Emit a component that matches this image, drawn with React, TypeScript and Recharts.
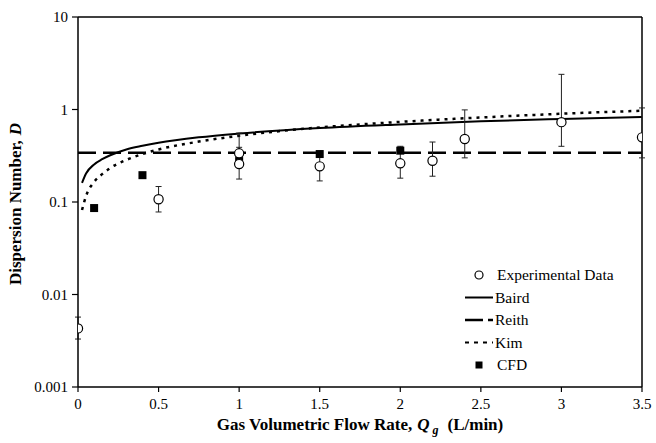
import {
  ComposedChart,
  ErrorBar,
  Label,
  Legend,
  Line,
  ReferenceLine,
  Scatter,
  XAxis,
  YAxis,
} from 'recharts';

const FONT = '"Liberation Serif", "Times New Roman", Times, serif';

const X_TICKS = [0, 0.5, 1, 1.5, 2, 2.5, 3, 3.5];
const Y_TICKS = [0.001, 0.01, 0.1, 1, 10];

// measured dispersion numbers, with the lower / upper ends of each error bar
const EXP_Q = [0, 0.5, 1, 1, 1.5, 2, 2.2, 2.4, 3, 3.5];
const EXP_D = [0.0043, 0.107, 0.336, 0.257, 0.243, 0.262, 0.279, 0.48, 0.73, 0.5];
const EXP_LOW = [0.0033, 0.078, 0.27, 0.177, 0.169, 0.181, 0.19, 0.3, 0.4, 0.3];
const EXP_HIGH = [0.0057, 0.147, 0.556, 0.39, 0.33, 0.4, 0.445, 0.99, 2.4, 1.04];

const CFD_Q = [0.1, 0.4, 1, 1.5, 2];
const CFD_D = [0.086, 0.195, 0.277, 0.33, 0.359];

// correlation curves
const MODEL_Q = [0.025, 0.05, 0.1, 0.15, 0.2, 0.3, 0.4, 0.5, 0.75, 1, 1.5, 2, 2.5, 3, 3.5];
const BAIRD_D = [0.161, 0.203, 0.255, 0.29, 0.32, 0.37, 0.405, 0.437, 0.5, 0.55, 0.63, 0.69, 0.745, 0.79, 0.83];
const KIM_D = [0.082, 0.116, 0.165, 0.2, 0.233, 0.285, 0.33, 0.37, 0.45, 0.52, 0.64, 0.735, 0.82, 0.9, 0.97];
const REITH_Q = [0, 3.5];
const REITH_D = [0.34, 0.34];

const LEGEND_NAMES = ['Experimental Data', 'Baird', 'Reith', 'Kim', 'CFD'];

const expData = EXP_Q.map((x, i) => ({
  x,
  y: EXP_D[i],
  err: [EXP_D[i] - EXP_LOW[i], EXP_HIGH[i] - EXP_D[i]],
}));
const cfdData = CFD_Q.map((x, i) => ({ x, y: CFD_D[i] }));
const bairdData = MODEL_Q.map((x, i) => ({ x, y: BAIRD_D[i] }));
const kimData = MODEL_Q.map((x, i) => ({ x, y: KIM_D[i] }));
const reithData = REITH_Q.map((x, i) => ({ x, y: REITH_D[i] }));

const tickStyle = { fill: '#000', fontSize: 15, fontFamily: FONT };

function OpenCircle(props: any) {
  const { cx, cy } = props;
  return <circle cx={cx} cy={cy} r={4.6} fill="#fff" stroke="#000" strokeWidth={1.2} />;
}

function FilledSquare(props: any) {
  const { cx, cy } = props;
  return <rect x={cx - 4} y={cy - 4} width={8} height={8} fill="#000" />;
}

function KeyIcon({ index, y }: { index: number; y: number }) {
  switch (index) {
    case 0:
      return <circle cx={24} cy={y} r={4} fill="#fff" stroke="#000" strokeWidth={1.2} />;
    case 1:
      return <line x1={10} x2={38} y1={y} y2={y} stroke="#000" strokeWidth={2} />;
    case 2:
      return (
        <line x1={10} x2={38} y1={y} y2={y} stroke="#000" strokeWidth={2.5} strokeDasharray="18 5" />
      );
    case 3:
      return (
        <line x1={10} x2={38} y1={y} y2={y} stroke="#000" strokeWidth={2} strokeDasharray="4 5" />
      );
    default:
      return <rect x={20.5} y={y - 3.5} width={7} height={7} fill="#000" />;
  }
}

function KeyBox() {
  return (
    <svg width={190} height={115} style={{ display: 'block' }}>
      {LEGEND_NAMES.map((name, i) => {
        const y = 13 + i * 22.5;
        return (
          <g key={name}>
            <KeyIcon index={i} y={y} />
            <text x={i === 0 || i === 4 ? 42 : 40} y={y + 5} fontSize={15.5} fontFamily={FONT} fill="#000">
              {name}
            </text>
          </g>
        );
      })}
    </svg>
  );
}

function XTitle(props: any) {
  const { x, y, width } = props.viewBox;
  return (
    <text
      x={x + width / 2}
      y={y + 43}
      textAnchor="middle"
      fontFamily={FONT}
      fontSize={17}
      fontWeight="bold"
      fill="#000"
    >
      <tspan>Gas Volumetric Flow Rate,</tspan>
      <tspan dx={5} fontStyle="italic">Q</tspan>
      <tspan dx={3} dy={4} fontSize={12} fontStyle="italic">g</tspan>
      <tspan dx={9} dy={-4}>(L/min)</tspan>
    </text>
  );
}

function YTitle(props: any) {
  const { x, y, height } = props.viewBox;
  const cx = x + 13;
  const cy = y + height / 2 + 2;
  return (
    <text
      x={cx}
      y={cy}
      transform={`rotate(-90, ${cx}, ${cy})`}
      textAnchor="middle"
      fontFamily={FONT}
      fontSize={17}
      fontWeight="bold"
      fill="#000"
    >
      <tspan>Dispersion Number,</tspan>
      <tspan dx={5} fontStyle="italic">D</tspan>
    </text>
  );
}

export default function App() {
  return (
    <div style={{ position: 'absolute', left: 0, top: 0, background: '#fff' }}>
      <ComposedChart width={656} height={443} margin={{ top: 17, right: 14, left: 8, bottom: 0 }}>
        <XAxis
          type="number"
          dataKey="x"
          domain={[0, 3.5]}
          ticks={X_TICKS}
          allowDataOverflow
          height={56}
          stroke="#000"
          strokeWidth={1.5}
          tickSize={5}
          tickMargin={6}
          tick={tickStyle}
          tickLine={{ stroke: '#000', strokeWidth: 1.2 }}
        >
          <Label content={XTitle} />
        </XAxis>
        <YAxis
          type="number"
          dataKey="y"
          scale="log"
          domain={[0.001, 10]}
          ticks={Y_TICKS}
          allowDataOverflow
          width={70}
          stroke="#000"
          strokeWidth={1.5}
          tickSize={6}
          tickMargin={4}
          tick={tickStyle}
          tickLine={{ stroke: '#000', strokeWidth: 1.2 }}
        >
          <Label content={YTitle} />
        </YAxis>

        {/* frame on the top and right */}
        <ReferenceLine y={10} stroke="#000" strokeWidth={1.5} />
        <ReferenceLine x={3.5} stroke="#000" strokeWidth={1.5} />

        <Line
          data={bairdData}
          dataKey="y"
          name="Baird"
          type="monotone"
          stroke="#000"
          strokeWidth={2}
          dot={false}
          isAnimationActive={false}
        />
        <Line
          data={reithData}
          dataKey="y"
          name="Reith"
          type="linear"
          stroke="#000"
          strokeWidth={2.5}
          strokeDasharray="18 7"
          dot={false}
          isAnimationActive={false}
        />
        <Line
          data={kimData}
          dataKey="y"
          name="Kim"
          type="monotone"
          stroke="#000"
          strokeWidth={2.5}
          strokeDasharray="3 5"
          dot={false}
          isAnimationActive={false}
        />
        <Scatter data={cfdData} dataKey="y" name="CFD" shape={FilledSquare} isAnimationActive={false} />
        <Scatter
          data={expData}
          dataKey="y"
          name="Experimental Data"
          shape={OpenCircle}
          isAnimationActive={false}
        >
          <ErrorBar dataKey="err" direction="y" width={3} stroke="#222" strokeWidth={1} />
        </Scatter>

        <Legend
          layout="vertical"
          align="center"
          verticalAlign="middle"
          content={<KeyBox />}
          wrapperStyle={{ left: 455, top: 262, width: 190 }}
        />
      </ComposedChart>
    </div>
  );
}
